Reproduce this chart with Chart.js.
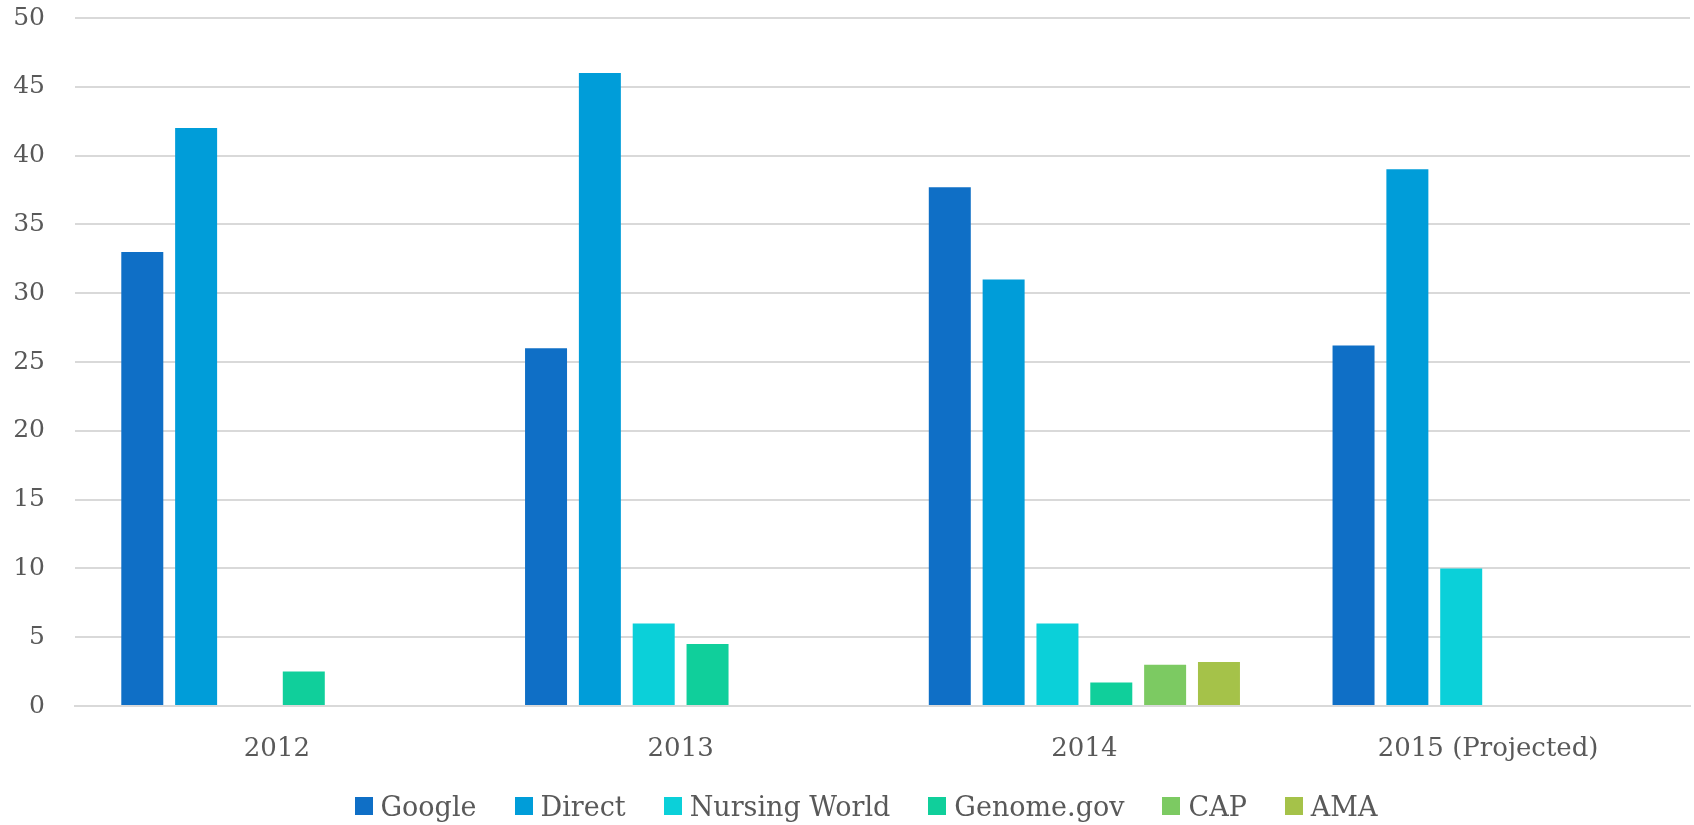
<!DOCTYPE html>
<html>
<head>
<meta charset="utf-8">
<title>Traffic sources</title>
<script src="https://cdn.jsdelivr.net/npm/chart.js@4.4.0/dist/chart.umd.min.js"></script>
<style>
    html, body { margin: 0; padding: 0; background: #fff; }
    #wrap { position: relative; width: 1694px; height: 825px; }
    #legend {
        position: absolute; left: 0; top: 790px; width: 1694px; height: 32px;
        box-sizing: border-box; padding-left: 38px;
        display: flex; justify-content: center; align-items: center;
        font-family: "DejaVu Serif", "Liberation Serif", serif; font-size: 27px;
        color: #595959; white-space: nowrap;
    }
    #legend .item { display: flex; align-items: center; margin: 0 19px; }
    #legend .box { width: 18px; height: 18px; margin-right: 8px; }
</style>
</head>
<body>
<div id="wrap">
    <canvas id="sourcesChart"></canvas>
    <div id="legend"></div>
</div>
<script>
const years = ['2012', '2013', '2014', '2015 (Projected)'];

const google = [33, 26, 37.7, 26.2];
const direct = [42, 46, 31, 39];
const nursingWorld = [null, 6, 6, 10];
const genome = [2.5, 4.5, 1.7, null];
const cap = [null, null, 3, null];
const ama = [null, null, 3.2, null];

const yTicks = [0, 5, 10, 15, 20, 25, 30, 35, 40, 45, 50];

const colors = ['#0F6FC6', '#009DD9', '#0BD0D9', '#10CF9B', '#7CCA62', '#A5C249'];
const serif = '"DejaVu Serif", "Liberation Serif", serif';

function makeSet(label, data, i) {
    return {
        label: label,
        data: data,
        backgroundColor: colors[i],
        borderWidth: 0,
        categoryPercentage: 0.8,
        barPercentage: 0.78
    };
}

const ctx = document.getElementById('sourcesChart').getContext('2d');
const chart = new Chart(ctx, {
    type: 'bar',
    data: {
        labels: years,
        datasets: [
            makeSet('Google', google, 0),
            makeSet('Direct', direct, 1),
            makeSet('Nursing World', nursingWorld, 2),
            makeSet('Genome.gov', genome, 3),
            makeSet('CAP', cap, 4),
            makeSet('AMA', ama, 5)
        ]
    },
    options: {
        responsive: true,
        maintainAspectRatio: false,
        animation: false,
        layout: {
            padding: { top: 0, right: 4, bottom: 62, left: 0 }
        },
        plugins: {
            legend: { display: false },
            tooltip: { enabled: false }
        },
        scales: {
            x: {
                grid: { display: false, drawTicks: false },
                border: { color: '#D9D9D9', width: 2 },
                afterFit: function (scale) {
                    scale.height = 57;
                },
                ticks: {
                    color: '#595959',
                    font: { family: serif, size: 26 },
                    padding: 28,
                    maxRotation: 0
                }
            },
            y: {
                min: 0,
                max: 50,
                afterBuildTicks: function (scale) {
                    scale.ticks = yTicks.map(v => ({ value: v }));
                },
                afterFit: function (scale) {
                    scale.width = 75;
                    // keep the top gridline close to the canvas edge
                    scale.paddingTop = 18;
                },
                grid: { color: '#D9D9D9', lineWidth: 2, drawTicks: false },
                border: { display: false },
                ticks: {
                    color: '#595959',
                    font: { family: serif, size: 25 },
                    padding: 30
                }
            }
        }
    }
});

// legend built as html from the datasets
const legendEl = document.getElementById('legend');
chart.data.datasets.forEach(ds => {
    const item = document.createElement('span');
    item.className = 'item';
    const box = document.createElement('span');
    box.className = 'box';
    box.style.background = ds.backgroundColor;
    item.appendChild(box);
    item.appendChild(document.createTextNode(ds.label));
    legendEl.appendChild(item);
});
</script>
</body>
</html>
